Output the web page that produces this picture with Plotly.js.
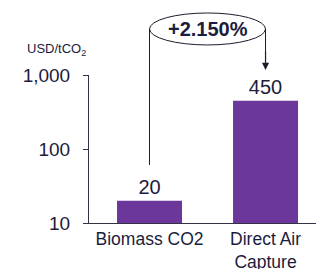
<!DOCTYPE html>
<html>
<head>
<meta charset="utf-8">
<script src="https://cdn.plot.ly/plotly-3.0.1.min.js"></script>
<style>html,body{margin:0;padding:0;background:#fff;}#chart{width:316px;height:269px;}</style>
</head>
<body>
<div id="chart"></div>
<script>
var categories = ['Biomass CO2', 'Direct Air<br>Capture'];
var costs = [20, 450];
var costLabels = ['20', '450'];
var changeLabel = '+2.150%';
var unitLabel = 'USD/tCO<sub>2</sub>';
var yTickVals = [10, 100, 1000];
var yTickText = ['10', '100', '1,000'];

var textColor = '#1c1c3c';
var barColor = '#6b379a';

var trace = {
  type: 'bar',
  x: categories,
  y: costs,
  text: costLabels,
  textposition: 'outside',
  textfont: {family: 'Liberation Sans, Arial, sans-serif', size: 20, color: textColor},
  cliponaxis: false,
  marker: {color: barColor},
  width: 0.56,
  hoverinfo: 'none'
};

var layout = {
  width: 316, height: 269,
  margin: {l: 89, r: 0, t: 75, b: 46},
  paper_bgcolor: '#ffffff',
  plot_bgcolor: '#ffffff',
  showlegend: false,
  font: {family: 'Liberation Sans, Arial, sans-serif', color: textColor},
  xaxis: {
    type: 'category',
    range: [-0.5216, 1.435],
    showline: true, linecolor: '#333344', linewidth: 1,
    ticks: '', showgrid: false, zeroline: false,
    tickfont: {size: 17.5, color: textColor},
    fixedrange: true
  },
  yaxis: {
    type: 'log',
    range: [1, 3],
    tickvals: yTickVals,
    ticktext: yTickText,
    showline: true, linecolor: '#333344', linewidth: 1,
    ticks: 'outside', ticklen: 5, tickcolor: '#333344',
    ticklabelstandoff: 9,
    showgrid: false, zeroline: false,
    tickfont: {size: 19, color: textColor},
    fixedrange: true
  },
  shapes: [
    {type: 'circle', xref: 'x', yref: 'paper', x0: 0, x1: 1, y0: 1.203, y1: 1.419,
     line: {color: '#1c1c2c', width: 1}, fillcolor: 'rgba(0,0,0,0)'},
    {type: 'line', xref: 'x', yref: 'paper', x0: 0, x1: 0, y0: 0.392, y1: 1.311,
     line: {color: '#1c1c2c', width: 1}},
    {type: 'line', xref: 'x', yref: 'paper', x0: 1, x1: 1, y0: 1.311, y1: 1.06,
     line: {color: '#1c1c2c', width: 1}}
  ],
  annotations: [
    {xref: 'x', yref: 'paper', x: 0.5, y: 1.311, text: '<b>' + changeLabel + '</b>',
     showarrow: false, font: {size: 20, color: textColor}, xanchor: 'center', yanchor: 'middle'},
    {xref: 'x', yref: 'paper', x: 1, y: 1.034, text: '', showarrow: true,
     ax: 0, ay: -20, arrowhead: 2, arrowsize: 1.2, arrowwidth: 1.2, arrowcolor: '#1c1c2c', standoff: 0},
    {xref: 'paper', yref: 'paper', x: -0.282, y: 1.169, text: unitLabel, showarrow: false,
     xanchor: 'left', yanchor: 'middle', font: {size: 13, color: textColor}}
  ]
};

Plotly.newPlot('chart', [trace], layout, {displayModeBar: false, staticPlot: true});
</script>
</body>
</html>
